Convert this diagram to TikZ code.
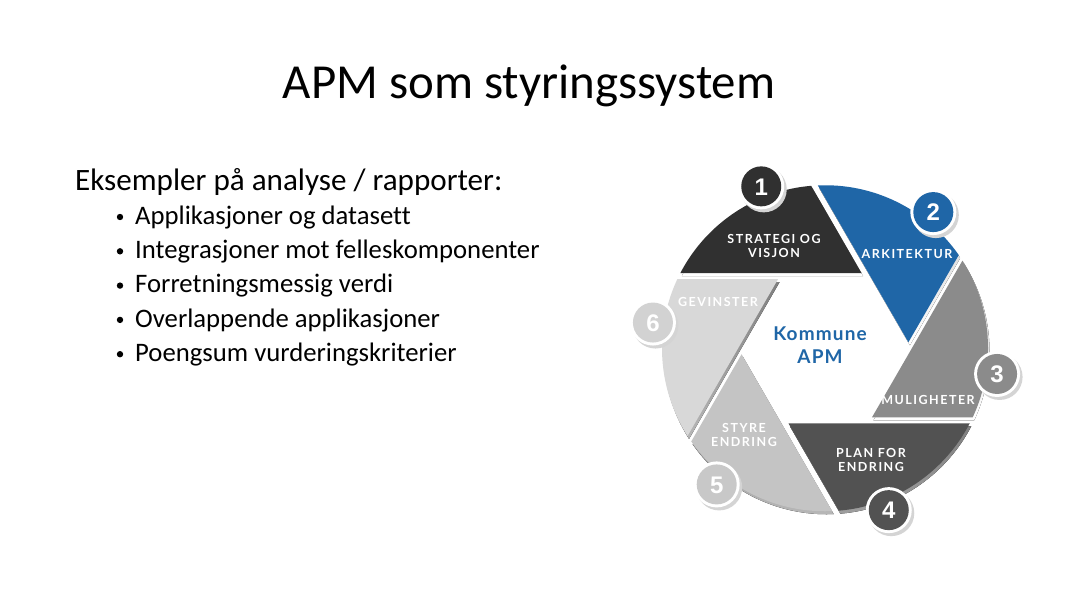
\documentclass[tikz,border=0pt]{standalone}
\usepackage{fontspec}
\usetikzlibrary{calc}
\setmainfont{Carlito}[Ligatures=NoCommon]
\newfontfamily\segfont[LetterSpace=12]{Lato}
\newfontfamily\hubfont[LetterSpace=6]{Lato}
\newfontfamily\numfont{Liberation Sans}

\definecolor{segA}{HTML}{303030}
\definecolor{segB}{HTML}{1F66A7}
\definecolor{segC}{HTML}{8B8B8B}
\definecolor{segD}{HTML}{525252}
\definecolor{segE}{HTML}{C4C4C4}
\definecolor{segF}{HTML}{D8D8D8}
\definecolor{numE}{HTML}{C8C8C8}
\definecolor{numF}{HTML}{D2D2D2}
\definecolor{shade}{HTML}{E3E3E3}
\definecolor{badgeshade}{HTML}{D4D4D4}
\definecolor{hubblue}{HTML}{1F66A7}

\tikzset{
  seglabel/.style={text=white, font=\segfont\bfseries\fontsize{12.5}{14.5}\selectfont, align=center, inner sep=0pt},
  numlabel/.style={text=white, font=\numfont\bfseries\fontsize{24}{24}\selectfont, inner sep=0pt},
  bodytext/.style={anchor=base west, inner sep=0pt, font=\fontsize{31.1}{36}\selectfont},
  bullettext/.style={anchor=base west, inner sep=0pt, font=\fontsize{26.7}{32}\selectfont},
  bulletdot/.style={circle, fill=black, inner sep=0pt, minimum size=6.4pt},
}

\begin{document}
\begin{tikzpicture}[x=1pt, y=-1pt]
  \useasboundingbox[fill=white] (0,0) rectangle (1067,602);

  % Title
  \node[anchor=base, inner sep=0pt, font=\fontsize{48.9}{58}\selectfont] (title) at (529,98) {APM som styringssystem};

  % Text column
  \node[bodytext] (intro) at (75,190) {Eksempler på analyse / rapporter:};
  \foreach \t [count=\i] in {Applikasjoner og datasett, Integrasjoner mot felleskomponenter, Forretningsmessig verdi, Overlappende applikasjoner, Poengsum vurderingskriterier}{
    \node[bulletdot] (dot\i) at (120,{190+34.3*\i-7.3}) {};
    \node[bullettext] (item\i) at (135,{190+34.3*\i}) {\t};
  }

  % Shutter ring: six wedges cut from a disc around a hexagonal opening
  \begin{scope}[shift={(825,348.25)}, yscale=-1]
    % soft shadows under the wedges
    \begin{scope}[shift={(1.5,-3)}]
      \foreach \a in {60,0,-60,-120,180,120}{
        \begin{scope}
          \clip (0,0) circle (163);
          \fill[shade] ($(\a:83.4)+({\a+90}:6)$) -- ++({\a+60}:420)
            -- ($(\a:83.4)+({\a+90}:6)+({\a+120}:420)$) -- cycle;
        \end{scope}
      }
    \end{scope}
    % the wedges themselves
    \foreach \a/\c in {60/segA,0/segB,-60/segC,-120/segD,180/segE,120/segF}{
      \begin{scope}
        \clip (0,0) circle (163);
        \fill[\c] ($(\a:83.4)+({\a+90}:6)$) -- ++({\a+60}:420)
          -- ($(\a:83.4)+({\a+90}:6)+({\a+120}:420)$) -- cycle;
      \end{scope}
    }
    % numbered badges on the rim
    \foreach \ang/\c/\n in {111.5/segA/1, 51.5/segB/2, -8.5/segC/3, -68.5/segD/4, -128.5/numE/5, 171.5/numF/6}{
      \fill[badgeshade] ($(\ang:174)+(2.5,-3)$) circle (23);
      \fill[white] (\ang:174) circle (23);
      \fill[\c] (\ang:174) circle (20);
      \node[numlabel] (badge\n) at ($(\ang:174)+(0,-0.5)$) {\n};
    }
  \end{scope}

  % Wedge captions
  \node[seglabel] (lab1) at (774,246) {STRATEGI OG\\[-1pt]VISJON};
  \node[seglabel] (lab2) at (907,254) {ARKITEKTUR};
  \node[seglabel] (lab3) at (928,400) {MULIGHETER};
  \node[seglabel] (lab4) at (871,460) {PLAN FOR\\[-1pt]ENDRING};
  \node[seglabel] (lab5) at (744,435) {STYRE\\[-1pt]ENDRING};
  \node[seglabel] (lab6) at (718,302) {GEVINSTER};

  % Hub text
  \node[text=hubblue, align=center, inner sep=0pt, font=\hubfont\bfseries\fontsize{19}{23}\selectfont] (hub) at (820,345) {Kommune\\APM};
\end{tikzpicture}
\end{document}
